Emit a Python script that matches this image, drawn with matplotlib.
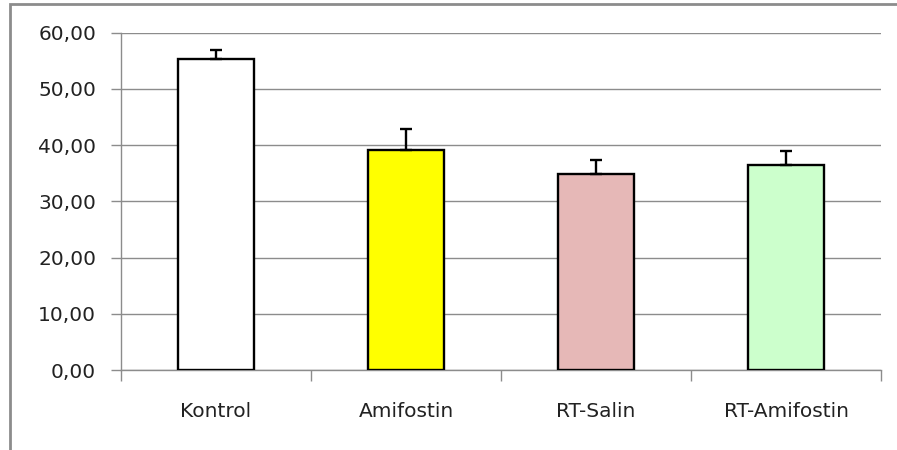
import numpy as np
import matplotlib.pyplot as plt
from matplotlib.ticker import FuncFormatter
from matplotlib.patches import Rectangle

groups = ['Kontrol', 'Amifostin', 'RT-Salin', 'RT-Amifostin']
means = [55.4, 39.1, 34.8, 36.5]
errs = [1.5, 3.8, 2.5, 2.5]
colors = ['#FFFFFF', '#FFFF00', '#E6B8B7', '#CCFFCC']
yticks = [0, 10, 20, 30, 40, 50, 60]

W, H = 897, 450
fig = plt.figure(figsize=(W/100, H/100), dpi=100)
# chart frame (only top and left edges show in the crop)
fig.add_artist(Rectangle((9.5/W, -0.1), 1.2, 1.1 - 4.5/H, transform=fig.transFigure,
                         fill=False, edgecolor='#8c8c8c', linewidth=2))

ax = fig.add_axes([121/W, 1 - 370/H, (881-121)/W, (370-32.7)/H])
x = np.arange(len(groups))
ax.bar(x, means, width=0.395, color=colors, edgecolor='black', linewidth=1.7, zorder=3)
ax.errorbar(x, means, yerr=[np.zeros(len(errs)), errs], fmt='none', ecolor='black',
            elinewidth=1.7, capsize=4.3, capthick=1.7, zorder=4)

ax.set_xlim(-0.5, len(groups) - 0.5)
ax.set_ylim(0, 60)
ax.set_yticks(yticks)
ax.yaxis.set_major_formatter(FuncFormatter(lambda v, p: f'{v:.2f}'.replace('.', ',')))
ax.grid(axis='y', color='#8c8c8c', linewidth=1, zorder=0)
ax.set_xticks(x)
ax.set_xticklabels(groups)
ax.set_xticks(np.arange(-0.5, len(groups)), minor=True)
ax.tick_params(axis='x', which='major', length=0, pad=23, labelsize=14.5, labelcolor='#222222')
ax.tick_params(axis='x', which='minor', length=8, color='#8c8c8c', width=1)
ax.tick_params(axis='y', length=7, color='#8c8c8c', width=1, pad=11, labelsize=14.5,
               labelcolor='#222222')
for s in ['top', 'right']:
    ax.spines[s].set_visible(False)
for s in ['left', 'bottom']:
    ax.spines[s].set_color('#8c8c8c')
    ax.spines[s].set_linewidth(1)

fig.savefig('out.png', dpi=100)
